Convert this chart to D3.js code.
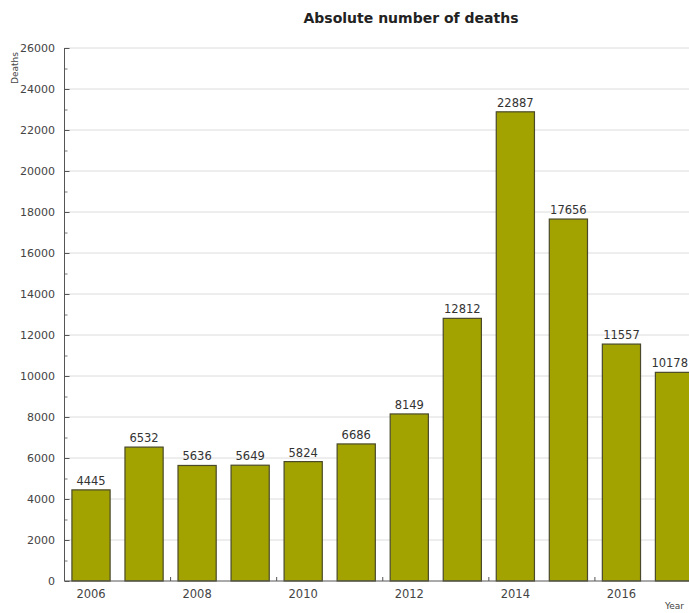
<!DOCTYPE html>
<html>
<head>
<meta charset="utf-8">
<script src="https://cdn.jsdelivr.net/npm/d3@7"></script>
<style>
  body { margin: 0; background: #fff; }
  svg { display: block; font-family: "DejaVu Sans", Verdana, sans-serif; }
</style>
</head>
<body>
<svg id="chart" width="689" height="613"></svg>
<script>
// data
const years = [2006, 2007, 2008, 2009, 2010, 2011, 2012, 2013, 2014, 2015, 2016, 2017];
const deaths = [4445, 6532, 5636, 5649, 5824, 6686, 8149, 12812, 22887, 17656, 11557, 10178];
const yTicks = [0, 2000, 4000, 6000, 8000, 10000, 12000, 14000, 16000, 18000, 20000, 22000, 24000, 26000];
const xLabels = [2006, 2008, 2010, 2012, 2014, 2016];

const svg = d3.select('#chart'),
	W = 689,
	plotLeft = 64.5, plotTop = 48, plotBottom = 581, plotRight = 701;

const x = d3.scaleBand().domain(years).range([plotLeft, plotRight]).paddingInner(0.28).paddingOuter(0.14),
	y = d3.scaleLinear().domain([0, 26000]).range([plotBottom, plotTop]);

// grid
svg.append('g').selectAll('line')
	.data(yTicks.slice(1))
	.join('line')
	.attr('x1', plotLeft).attr('x2', W)
	.attr('y1', d => y(d)).attr('y2', d => y(d))
	.attr('stroke', '#dcdcdc').attr('stroke-width', 1);

// y axis ticks, major and minor
const yAxis = svg.append('g')
	.attr('transform', `translate(${plotLeft},0)`)
	.call(d3.axisRight(y).tickValues(yTicks).tickSize(5).tickFormat(''));
yAxis.select('.domain').remove();
yAxis.selectAll('line').attr('stroke', '#555');
svg.append('g').attr('transform', `translate(${plotLeft},0)`)
	.call(d3.axisRight(y).tickValues(d3.range(1000, 26000, 2000)).tickSize(3).tickFormat(''))
	.call(g => g.select('.domain').remove())
	.selectAll('line').attr('stroke', '#777');

svg.append('g').selectAll('text')
	.data(yTicks)
	.join('text')
	.attr('x', 55).attr('y', d => y(d) + 4)
	.attr('text-anchor', 'end')
	.attr('font-size', 11)
	.attr('fill', '#444')
	.text(d => d);

svg.append('line')
	.attr('x1', plotLeft).attr('x2', plotLeft).attr('y1', plotTop).attr('y2', plotBottom)
	.attr('stroke', '#555');

// bars
svg.append('g').selectAll('rect')
	.data(years)
	.join('rect')
	.attr('x', d => x(d))
	.attr('y', (d, i) => y(deaths[i]))
	.attr('width', x.bandwidth())
	.attr('height', (d, i) => plotBottom - y(deaths[i]))
	.attr('fill', '#a2a200')
	.attr('stroke', '#4a4a2a')
	.attr('stroke-width', 1.2);

// value labels (last one nudged so it stays inside the page)
svg.append('g').selectAll('text')
	.data(years)
	.join('text')
	.attr('x', d => x(d) + x.bandwidth() / 2)
	.attr('y', (d, i) => y(deaths[i]) - 5)
	.attr('text-anchor', 'middle')
	.attr('font-size', 11.5)
	.attr('fill', '#333')
	.text((d, i) => deaths[i])
	.each(function(d) {
		const half = this.getComputedTextLength() / 2,
			cx = x(d) + x.bandwidth() / 2;
		if (cx + half > W - 1) d3.select(this).attr('x', W - 1 - half);
	});

// x axis
svg.append('line')
	.attr('x1', plotLeft).attr('x2', W).attr('y1', plotBottom).attr('y2', plotBottom)
	.attr('stroke', '#555');

svg.append('g').selectAll('line')
	.data(xLabels.slice(1))
	.join('line')
	.attr('x1', d => x(d) - x.step() * x.paddingInner() / 2)
	.attr('x2', d => x(d) - x.step() * x.paddingInner() / 2)
	.attr('y1', plotBottom).attr('y2', plotBottom - 4)
	.attr('stroke', '#555');

svg.append('g').selectAll('text')
	.data(xLabels)
	.join('text')
	.attr('x', d => x(d) + x.bandwidth() / 2)
	.attr('y', 598)
	.attr('text-anchor', 'middle')
	.attr('font-size', 11.5)
	.attr('fill', '#444')
	.text(d => d);

// axis titles
svg.append('text')
	.attr('transform', 'translate(18,68) rotate(-90)')
	.attr('text-anchor', 'middle')
	.attr('font-size', 9)
	.attr('fill', '#444')
	.text('Deaths');

svg.append('text')
	.attr('x', 665).attr('y', 609)
	.attr('font-size', 9)
	.attr('fill', '#444')
	.text('Year');

// title
svg.append('text')
	.attr('x', 411).attr('y', 23)
	.attr('text-anchor', 'middle')
	.attr('font-size', 14)
	.attr('font-weight', 'bold')
	.attr('fill', '#222')
	.text('Absolute number of deaths');
</script>
</body>
</html>
